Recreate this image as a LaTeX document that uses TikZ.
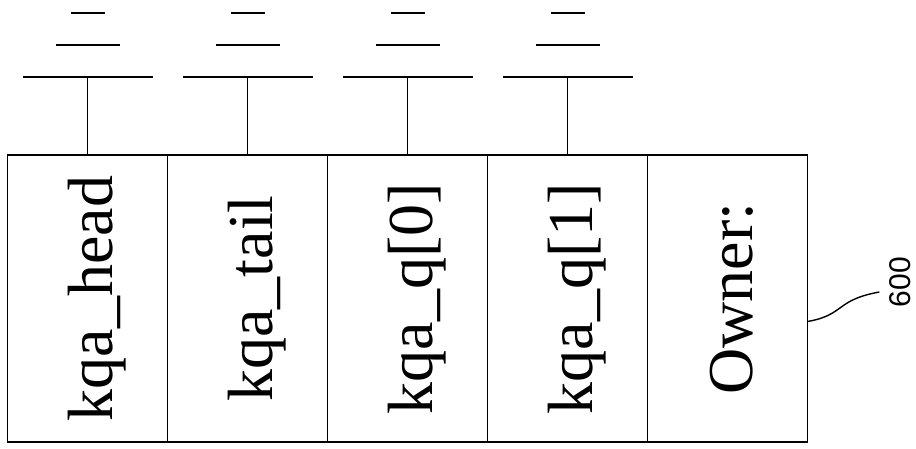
\documentclass[tikz,border=0pt]{standalone}
\usepackage{fontspec}
\setmainfont{Liberation Serif}
\newfontfamily\refnumfont{Liberation Sans}
\usetikzlibrary{positioning}
\tikzset{
  cell/.style={draw, line width=0.9pt, minimum width=80pt, minimum height=143.5pt, inner sep=0pt, outer sep=0pt},
  field/.style={rotate=90, font=\fontsize{32}{38}\selectfont, text height=25pt, text depth=0pt, inner sep=0pt},
  bar/.style={line width=1pt},
  refnum/.style={rotate=90, font=\refnumfont\fontsize{15}{18}\selectfont, inner sep=1pt, outer sep=4pt},
}
\begin{document}
\begin{tikzpicture}[x=0.5pt,y=-0.5pt]
  \useasboundingbox (0,0) rectangle (916,449);
  % record cells
  \node[cell] (head) at (87.5,298.5) {};
  \node[cell, right=0pt of head] (tail) {};
  \node[cell, right=0pt of tail] (q0) {};
  \node[cell, right=0pt of q0] (q1) {};
  \node[cell, right=0pt of q1] (owner) {};
  \node[field] (head-txt) at (head) {kqa\_head};
  \node[field] (tail-txt) at (tail) {kqa\_tail};
  \node[field] (q0-txt) at (q0) {kqa\_q[0]};
  \node[field] (q1-txt) at (q1) {kqa\_q[1]};
  \node[field] (owner-txt) at (owner) {Owner:};
  % grounded fields
  \foreach \c in {head,tail,q0,q1} {
    \coordinate[above=39pt of \c.north] (\c-gnd);
    \draw[line width=0.9pt] (\c.north) -- (\c-gnd);
    \draw[bar] (\c-gnd) +(-65,0) -- +(65,0) +(-32,-32) -- +(32,-32) +(-17,-64) -- +(17,-64);
  }
  % reference numeral
  \node[refnum] (ref600) at (900,282) {600};
  \coordinate[below=11.5pt of owner.east] (lead);
  \draw[line width=0.7pt] (lead) .. controls (845,315) and (835,300) .. ([yshift=-5pt]ref600.north);
\end{tikzpicture}
\end{document}
